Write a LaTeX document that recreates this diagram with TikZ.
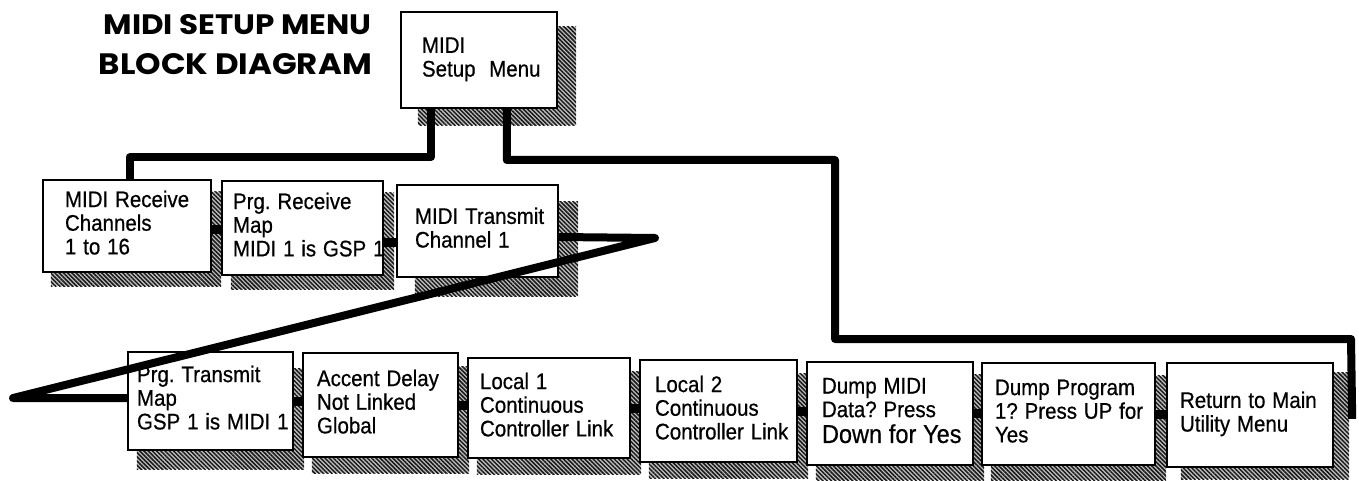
\documentclass[tikz,border=0pt]{standalone}
\usepackage{fontspec}
\usetikzlibrary{calc,backgrounds,patterns.meta}
\newfontfamily\boxfont{Liberation Sans}[FakeBold=0.6]
\newfontfamily\titlefont{Poppins}
\newcommand\ls[1]{\scalebox{1}[1.1]{\begin{tabular}{@{}l@{}}#1\end{tabular}}}
\pgfdeclarelayer{paper}
\pgfsetlayers{paper,background,main}
\frenchspacing
\begin{document}
\begin{tikzpicture}[x=1pt,y=-1pt,
  box/.style={draw, line width=2.4pt, fill=white, align=left, inner ysep=0pt,
    font=\boxfont\fontsize{20.5}{21.5}\selectfont},
  conn/.style={line width=8pt, line join=round},
  link/.style={line width=9pt},
  shade/.style={preaction={fill=black!25},
    pattern={Lines[angle=-45,distance=3pt,line width=1.5pt]}, pattern color=black!90},
  ttl/.style={anchor=east, inner sep=0pt, font=\titlefont\bfseries}
]
\useasboundingbox (0,0) rectangle (1359,481);
\begin{pgfonlayer}{paper}
  \fill[white] (0,0) rectangle (1359,481);
\end{pgfonlayer}

% title
\node[ttl] (title1) at (372,25) {\resizebox{268pt}{20pt}{MIDI SETUP MENU}};
\node[ttl] (title2) at (372,64) {\resizebox{273pt}{21pt}{BLOCK DIAGRAM}};

% boxes
\node[box, minimum width=156pt, minimum height=96pt, text width=114pt, inner xsep=21pt] (top) at (479,60)
  {\ls{MIDI\\Setup\ \ Menu}};
\node[box, minimum width=168pt, minimum height=92pt, text width=124pt, inner xsep=22pt] (b1) at (127,226)
  {\ls{MIDI Receive\\Channels\\1 to 16}};
\node[box, minimum width=161pt, minimum height=94pt, text width=139pt, inner xsep=11pt] (b2) at (302.5,228)
  {\ls{Prg. Receive\\Map\\MIDI 1 is GSP 1}};
\node[box, minimum width=161pt, minimum height=92pt, text width=125pt, inner xsep=18pt] (b3) at (477.5,231)
  {\ls{MIDI Transmit\\Channel 1}};
\node[box, minimum width=165pt, minimum height=98pt, text width=147pt, inner xsep=9pt] (b4) at (210.5,401)
  {\ls{Prg. Transmit\\Map\\GSP 1 is MIDI 1}};
\node[box, minimum width=155pt, minimum height=104pt, text width=127pt, inner xsep=14pt] (b5) at (380.5,405)
  {\ls{Accent Delay\\Not Linked\\Global}};
\node[box, minimum width=162pt, minimum height=100pt, text width=138pt, inner xsep=12pt] (b6) at (549,408)
  {\ls{Local 1\\Continuous\\Controller Link}};
\node[box, minimum width=157pt, minimum height=102pt, text width=127pt, inner xsep=15pt] (b7) at (718.5,411)
  {\ls{Local 2\\Continuous\\Controller Link}};
\node[box, minimum width=166pt, minimum height=103pt, text width=136pt, inner xsep=15pt] (b8) at (890,413.5)
  {\ls{Dump MIDI\\Data? Press\\{\fontsize{23.5}{21.5}\selectfont Down for Yes}}};
\node[box, minimum width=173pt, minimum height=102pt, text width=147pt, inner xsep=13pt] (b9) at (1068.5,414)
  {\ls{Dump Program\\1? Press UP for\\Yes}};
\node[box, minimum width=166pt, minimum height=104pt, text width=140pt, inner xsep=13pt] (b10) at (1250,415)
  {\ls{Return to Main\\Utility Menu}};

% shadows
\begin{scope}[on background layer]
  \foreach \n/\dx/\dy in {top/18/16, b1/9/13, b2/10/13, b3/19/18, b4/10/18, b5/10/15,
                          b6/10/15, b7/10/15, b8/10/14, b9/10/14, b10/15/11}
    \fill[shade] ($(\n.north west)+(\dx,\dy)$) rectangle ($(\n.south east)+(\dx,\dy)$);
\end{scope}

% connectors from the top box
\draw[conn] ($(top.south west)+(31,0)$) -- ++(0,48) -| ($(b1.north west)+(88,0)$);
\coordinate (r1) at (835,160);
\coordinate (r2) at (1351,339);
\coordinate (r3) at ($(b10.north east)+(18,57)$);
\draw[conn] ($(top.south west)+(107,0)$) |- (r1) |- (r2) -- (r3);

% zigzag from b3 to b4
\coordinate (z1) at (655,238);
\coordinate (z2) at (13,398);
\draw[conn] ($(b3.east)+(0,6)$) -- (z1) -- (z2) -- (b4.west |- z2);

% short links between neighbours
\coordinate (l12) at ($(b1.east)+(0,3)$);
\coordinate (l23) at ($(b2.east)+(0,14)$);
\draw[link] (l12) -- (l12 -| b2.west);
\draw[link] (l23) -- (l23 -| b3.west);
\draw[link] (b4.east) -- (b4.east -| b5.west);
\draw[link] (b5.east) -- (b5.east -| b6.west);
\draw[link] (b6.east) -- (b6.east -| b7.west);
\draw[link] (b7.east) -- (b7.east -| b8.west);
\draw[link] (b8.east) -- (b8.east -| b9.west);
\draw[link] (b9.east) -- (b9.east -| b10.west);
\end{tikzpicture}
\end{document}
